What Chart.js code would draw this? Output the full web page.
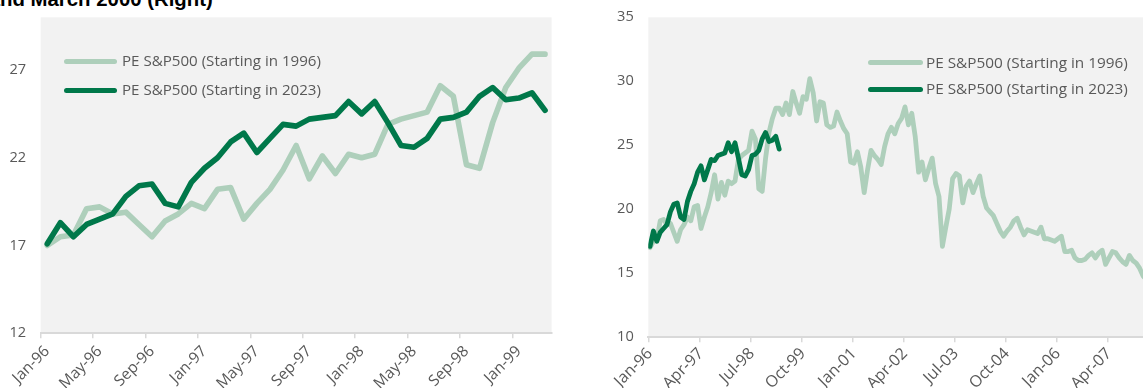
<!DOCTYPE html>
<html>
<head>
<meta charset="utf-8">
<script src="https://cdn.jsdelivr.net/npm/chart.js@4.4.1/dist/chart.umd.min.js"></script>
<style>
  html, body { margin: 0; padding: 0; background: #ffffff; overflow: hidden; width: 1143px; height: 388px; }
  #title { position: absolute; font-family: "Liberation Sans", Arial, sans-serif; font-weight: bold; color: #000; white-space: nowrap; }
  canvas { position: absolute; top: 0; }
  #leftCanvas { left: 0; }
  #rightCanvas { left: 560px; }
  .lg { position: absolute; font-family: "Open Sans", sans-serif; color: #595959; white-space: nowrap; }
  .lg .sw { position: absolute; height: 5px; border-radius: 2.5px; }
  .lg .tx { position: absolute; }
</style>
</head>
<body>
<div id="title">and March 2000 (Right)</div>
<canvas id="leftCanvas" width="560" height="388" style="width:560px;height:388px"></canvas>
<canvas id="rightCanvas" width="590" height="388" style="width:590px;height:388px"></canvas>

<div id="legendLeft"></div>
<div id="legendRight"></div>

<script>
// ---------- DATA ----------
const seriesNames = ['PE S&P500 (Starting in 1996)', 'PE S&P500 (Starting in 2023)'];

// Monthly PE, starting Jan-96 (147 months shown on right chart)
const pe1996 = [
  17.0,17.5,17.6,19.1,19.2,18.8,18.9,18.2,17.5,18.4,
  18.8,19.4,19.1,20.2,20.3,18.5,19.4,20.2,21.3,22.7,
  20.8,22.1,21.1,22.2,22.0,22.2,23.9,24.2,24.4,24.6,
  26.1,25.5,21.6,21.4,24.0,26.0,27.1,27.9,27.9,
  27.4,28.3,27.4,29.2,28.3,27.5,28.8,28.6,30.2,29.1,
  26.9,28.4,28.3,26.6,26.4,26.5,27.6,26.9,26.3,25.9,
  23.7,23.6,24.5,23.3,21.3,23.1,24.6,24.2,23.9,23.5,
  24.9,25.9,26.4,25.9,26.7,27.1,28.0,26.6,27.5,25.7,
  22.9,23.7,22.3,23.2,24.0,22.0,21.0,17.1,18.6,20.0,
  22.4,22.8,22.6,20.5,21.8,22.2,21.3,22.0,22.6,21.0,
  20.1,19.8,19.5,18.9,18.3,17.9,18.3,18.6,19.1,19.3,
  18.6,18.0,18.4,18.3,18.2,18.1,18.6,17.7,17.7,17.6,
  17.5,17.7,17.9,16.7,16.7,16.8,16.2,16.0,16.0,16.1,
  16.4,16.6,16.2,16.6,16.8,15.7,16.2,16.7,16.6,16.2,
  15.9,15.7,16.4,16.0,15.8,15.4,14.8,14.5
];

// Monthly PE starting Jan-23, aligned to same month index
const pe2023 = [
  17.1,18.3,17.5,18.2,18.5,18.8,19.8,20.4,20.5,19.4,
  19.2,20.6,21.4,22.0,22.9,23.4,22.3,23.1,23.9,23.8,
  24.2,24.3,24.4,25.2,24.5,25.2,24.0,22.7,22.6,23.1,
  24.2,24.3,24.6,25.5,26.0,25.3,25.4,25.7,24.7
];

const leftMonths = 39;
const rightMonths = 147;
const leftTickLabels = ['Jan-96','May-96','Sep-96','Jan-97','May-97','Sep-97','Jan-98','May-98','Sep-98','Jan-99'];
const rightTickLabels = ['Jan-96','Apr-97','Jul-98','Oct-99','Jan-01','Apr-02','Jul-03','Oct-04','Jan-06','Apr-07'];
const leftYTicks = [12, 17, 22, 27];
const rightYTicks = [10, 15, 20, 25, 30, 35];

// ---------- HELPERS ----------
const monthNames = ['Jan','Feb','Mar','Apr','May','Jun','Jul','Aug','Sep','Oct','Nov','Dec'];
function monthLabels(n) {
  const out = [];
  for (let i = 0; i < n; i++) {
    const yy = (96 + Math.floor(i / 12)) % 100;
    out.push(monthNames[i % 12] + '-' + String(yy).padStart(2, '0'));
  }
  return out;
}

const mctx = document.createElement('canvas').getContext('2d');
function textWidth(text, family, weight, size) {
  mctx.font = weight + ' ' + size + 'px "' + family + '"';
  return mctx.measureText(text).width;
}
function fitSize(text, family, weight, target) {
  return 100 * target / textWidth(text, family, weight, 100);
}

const LIGHT = '#aecfbb';
const DARK = '#00784a';
const TEXT = '#595959';
const PLOTBG = '#f2f2f2';
const AXIS = '#d9d9d9';
const FONT = 'Open Sans';
const yTickSize = Math.min(16, Math.max(12, fitSize('22', FONT, 'normal', 16.7)));

const plotBg = {
  id: 'plotBg',
  beforeDraw(chart) {
    const a = chart.chartArea, c = chart.ctx;
    c.save();
    c.fillStyle = PLOTBG;
    c.fillRect(a.left, a.top, a.right - a.left, a.bottom - a.top);
    c.restore();
  }
};

function makeChart(canvasId, opts) {
  // one extra month label so the series can continue past the visible edge (clipped like the original)
  const nData = Math.min(opts.n + 1, pe1996.length);
  const labels = monthLabels(nData);
  const tickSet = new Set(opts.tickLabels);
  return new Chart(document.getElementById(canvasId), {
    type: 'line',
    data: {
      labels: labels,
      datasets: [
        { label: seriesNames[0], data: pe1996.slice(0, nData), borderColor: LIGHT, backgroundColor: LIGHT,
          borderWidth: opts.lw, pointRadius: 0, tension: 0, borderJoinStyle: 'round', borderCapStyle: 'round', order: 2 },
        { label: seriesNames[1], data: pe2023, borderColor: DARK, backgroundColor: DARK,
          borderWidth: opts.lw, pointRadius: 0, tension: 0, borderJoinStyle: 'round', borderCapStyle: 'round', order: 1 }
      ]
    },
    options: {
      responsive: false,
      animation: false,
      devicePixelRatio: 1,
      layout: { padding: { left: 0, top: 17.3, right: opts.padRight, bottom: 0 } },
      plugins: { legend: { display: false }, tooltip: { enabled: false } },
      scales: {
        x: {
          type: 'category',
          offset: true,
          min: 0,
          max: opts.n - 1,
          grid: {
            offset: true,
            drawOnChartArea: false,
            drawTicks: true,
            tickLength: 5,
            lineWidth: 1.5,
            color: (ctx) => (ctx.index % opts.every === 0 ? AXIS : 'rgba(0,0,0,0)')
          },
          border: { display: true, color: AXIS, width: 2 },
          ticks: {
            autoSkip: false,
            maxRotation: 45,
            minRotation: 45,
            padding: opts.xPad,
            color: TEXT,
            font: { family: FONT, size: opts.xFont },
            callback: function (val) {
              const l = this.getLabelForValue(val);
              return tickSet.has(l) ? l : '';
            }
          },
          afterFit: (s) => { s.height = opts.xHeight; s.paddingLeft = 0; s.paddingRight = 0; }
        },
        y: {
          min: opts.ymin,
          max: opts.ymax,
          grid: { display: false, drawTicks: false },
          border: { display: false },
          ticks: {
            padding: opts.yPad,
            color: TEXT,
            font: { family: FONT, size: yTickSize }
          },
          afterBuildTicks: (s) => { s.ticks = opts.yTicks.map(v => ({ value: v })); },
          afterFit: (s) => { s.width = opts.yWidth; s.paddingTop = 0; s.paddingBottom = 0; }
        }
      }
    },
    plugins: [plotBg]
  });
}

makeChart('leftCanvas', {
  n: leftMonths, tickLabels: leftTickLabels, every: 4, lw: 5.6,
  ymin: 12, ymax: 30, yTicks: leftYTicks,
  yWidth: 40.7, xHeight: 54.7, padRight: 8.4, yPad: 14.5, xFont: 15.5, xPad: 4
});

makeChart('rightCanvas', {
  n: rightMonths, tickLabels: rightTickLabels, every: 15, lw: 4.8,
  ymin: 10, ymax: 35, yTicks: rightYTicks,
  yWidth: 88.3, xHeight: 50.7, padRight: 1.9, yPad: 14.5, xFont: 16, xPad: 2
});

// ---------- title (cropped at top, as in reference) ----------
(function () {
  const t = document.getElementById('title');
  const fam = 'Liberation Sans';
  const s = fitSize('nd March 2000 (Right)', fam, 'bold', 213);
  t.style.fontSize = s + 'px';
  t.style.lineHeight = s + 'px';
  t.style.left = (-textWidth('a', fam, 'bold', s)) + 'px';
  t.style.top = (6.5 - 0.8465 * s) + 'px';
})();

// ---------- HTML legends ----------
function buildLegend(id, x0, lineLen, gap, y1, y2, textTarget) {
  const fontSize = fitSize(seriesNames[0], FONT, 'normal', textTarget);
  const el = document.getElementById(id);
  const rows = [[seriesNames[0], LIGHT, y1], [seriesNames[1], DARK, y2]];
  rows.forEach(([name, col, y]) => {
    const d = document.createElement('div');
    d.className = 'lg';
    d.style.left = x0 + 'px';
    d.style.top = y + 'px';
    d.style.fontSize = fontSize + 'px';
    const sw = document.createElement('div');
    sw.className = 'sw';
    sw.style.left = '0px';
    sw.style.top = '-2.5px';
    sw.style.width = lineLen + 'px';
    sw.style.background = col;
    const tx = document.createElement('div');
    tx.className = 'tx';
    tx.style.left = (lineLen + gap) + 'px';
    tx.style.top = (-fontSize * 0.72) + 'px';
    tx.style.lineHeight = (fontSize * 1.36) + 'px';
    tx.textContent = name;
    d.appendChild(sw);
    d.appendChild(tx);
    el.appendChild(d);
  });
}
buildLegend('legendLeft', 64, 53, 5, 61, 90, 199);
buildLegend('legendRight', 868, 55, 3, 62.7, 89.3, 202);
</script>
</body>
</html>
